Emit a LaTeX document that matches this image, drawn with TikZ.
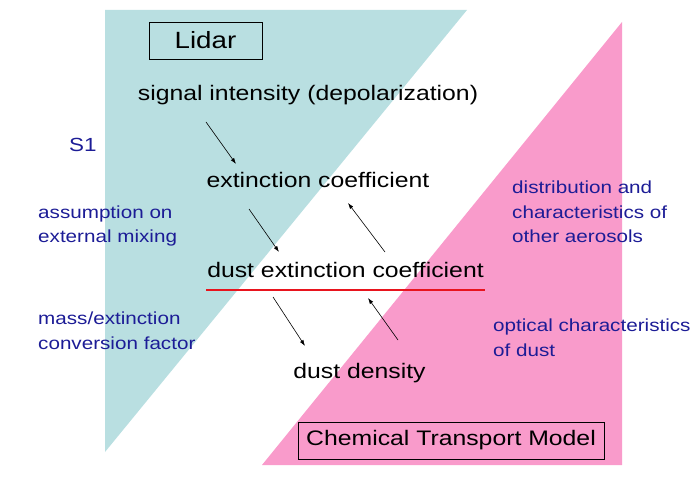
\documentclass[tikz,border=0pt]{standalone}
\usepackage{fontspec}
\setmainfont{Liberation Sans}[FakeStretch=1.18]
\usetikzlibrary{arrows.meta, positioning}
\definecolor{lidarbg}{HTML}{B9DFE1}
\definecolor{ctmbg}{HTML}{F99BCB}
\definecolor{navy}{HTML}{1C1C96}
\definecolor{uline}{HTML}{E8141E}
\tikzset{
  qty/.style={font=\fontsize{21}{25}\selectfont, inner sep=1pt, anchor=base},
  note/.style={font=\fontsize{17.5}{24.5}\selectfont, text=navy, align=left,
    inner sep=0pt, anchor=base west},
  tag/.style={draw, line width=0.8pt, font=\fontsize{23.5}{28}\selectfont,
    minimum height=37pt, inner sep=0pt},
  arr/.style={-{Latex[length=6pt,width=4pt]}, line width=0.6pt},
}
\begin{document}
\begin{tikzpicture}[x=1pt, y=-1pt]
\useasboundingbox (0,0) rectangle (691,481);
% the two domains
\fill[lidarbg] (105,10) -- (467,10) -- (105,452) -- cycle;
\fill[ctmbg] (622,22) -- (622,465) -- (262,465) -- cycle;
\node[tag, minimum width=113pt] (lidar) at (205.5,40.5) {Lidar};
\node[tag, font=\fontsize{21}{25}\selectfont, minimum width=306pt] (ctm) at (451,440.5) {Chemical Transport Model};
% retrieval chain
\node[qty] (sig) at (308,101) {signal intensity (depolarization)};
\node[qty] (ext) at (318,188) {extinction coefficient};
\node[qty] (dext) at (345.5,277) {dust extinction coefficient};
\node[qty] (dens) at (359.5,378) {dust density};
\draw[uline, line width=2.6pt] ([shift={(-139.5,13)}]dext.base) -- ([shift={(139.5,13)}]dext.base);
% side notes (anchored at the last line)
\node[note, font=\fontsize{19}{24}\selectfont] (s1) at (69,152) {S1};
\node[note] (mix) at (38,243) {assumption on\\external mixing};
\node[note] (conv) at (38,349) {mass/extinction\\conversion factor};
\node[note] (aero) at (512,243) {distribution and\\characteristics of\\other aerosols};
\node[note] (opt) at (493,356) {optical characteristics\\of dust};
% arrows
\draw[arr] ([shift={(-102,21)}]sig.base) -- ([shift={(-82,-24)}]ext.base);
\draw[arr] ([shift={(-69,21)}]ext.base) -- ([shift={(-66.5,-25)}]dext.base);
\draw[arr] ([shift={(-72.5,20)}]dext.base) -- ([shift={(-54.5,-32)}]dens.base);
\draw[arr] ([shift={(39.5,-25)}]dext.base) -- ([shift={(30,15)}]ext.base);
\draw[arr] ([shift={(38.5,-38)}]dens.base) -- ([shift={(22.5,21)}]dext.base);
\end{tikzpicture}
\end{document}
